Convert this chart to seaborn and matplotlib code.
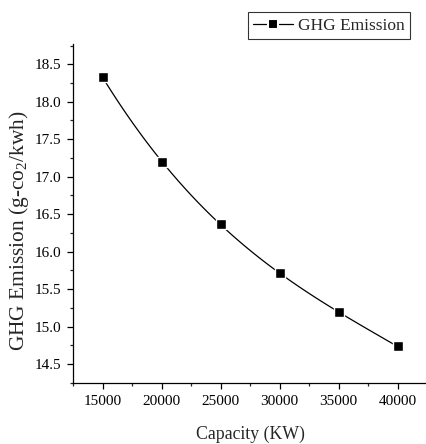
import numpy as np
import pandas as pd
import matplotlib
matplotlib.use("Agg")
import matplotlib.pyplot as plt
from matplotlib.lines import Line2D
from matplotlib.ticker import MultipleLocator
import seaborn as sns

# data
capacity = [15000, 20000, 25000, 30000, 35000, 40000]
ghg = [18.33, 17.20, 16.37, 15.72, 15.19, 14.74]
series_name = "GHG Emission"

df = pd.DataFrame({"capacity": capacity, "ghg": ghg})

sns.set_style("ticks")
plt.rcParams["font.family"] = ["Liberation Serif", "DejaVu Serif"]
plt.rcParams["mathtext.fontset"] = "custom"
plt.rcParams["mathtext.rm"] = "Liberation Serif"
plt.rcParams["mathtext.it"] = "Liberation Serif:italic"

fig = plt.figure(figsize=(4.27, 4.44), dpi=100)
ax = fig.add_axes([0.171, 0.1374, 0.829, 0.7635])

# smooth curve through the points (polynomial fit)
sns.regplot(data=df, x="capacity", y="ghg", order=3, ci=None, scatter=False,
            truncate=True, line_kws={"color": "black", "lw": 0.9}, ax=ax)
sns.scatterplot(data=df, x="capacity", y="ghg", marker="s", s=55,
                color="black", edgecolor="white", linewidth=1.0, zorder=3, ax=ax)

ax.set_xlim(12500, 42500)
ax.set_ylim(14.25, 18.77)
ax.xaxis.set_major_locator(MultipleLocator(5000))
ax.xaxis.set_minor_locator(MultipleLocator(2500))
ax.yaxis.set_major_locator(MultipleLocator(0.5))
ax.yaxis.set_minor_locator(MultipleLocator(0.25))
ax.yaxis.set_major_formatter(matplotlib.ticker.FormatStrFormatter("%.1f"))

ax.tick_params(which="major", direction="out", length=4.5, width=0.9,
               labelsize=11, colors="black", pad=4)
ax.tick_params(which="minor", direction="out", length=2.5, width=0.9)
sns.despine(ax=ax)
for s in ["left", "bottom"]:
    ax.spines[s].set_linewidth(0.9)
    ax.spines[s].set_color("black")

ax.set_xlabel("Capacity (KW)", fontsize=12.8)
ax.set_ylabel("GHG Emission (g-co$_\\mathregular{2}$/kwh)", fontsize=15.4)
ax.xaxis.set_label_coords(0.5, -0.125)
ax.yaxis.set_label_coords(-0.12, 0.451)

handle = Line2D([], [], color="black", lw=0.9, marker="s", markersize=7,
                markerfacecolor="black", markeredgecolor="white", markeredgewidth=1.5)
leg = fig.legend(handles=[handle], labels=[series_name], loc="upper right",
                 bbox_to_anchor=(0.961, 0.972), fontsize=12.5, frameon=True,
                 fancybox=False, handlelength=2.3, handletextpad=0.3,
                 borderpad=0.3, borderaxespad=0)
leg.get_frame().set_edgecolor("black")
leg.get_frame().set_linewidth(0.8)

fig.savefig("out.png", dpi=100)
